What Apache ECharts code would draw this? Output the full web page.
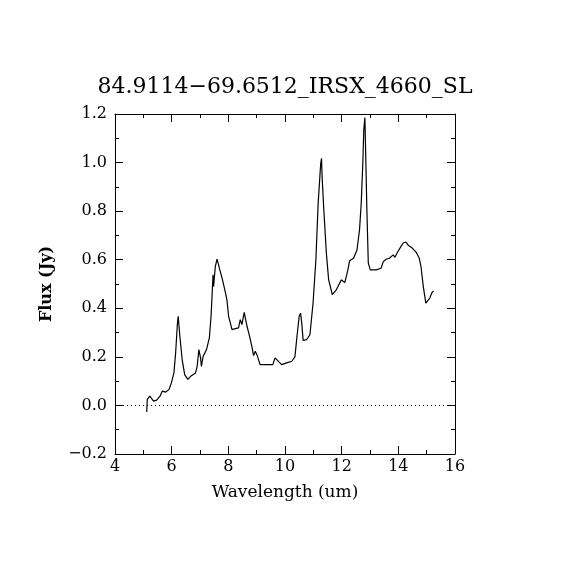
<!DOCTYPE html>
<html><head><meta charset="utf-8">
<script src="https://cdn.jsdelivr.net/npm/echarts@6/dist/echarts.min.js"></script>
<style>html,body{margin:0;padding:0;background:#fff}#c{width:570px;height:570px}</style>
</head><body><div id="c"></div>
<script>
const wavelength = [5.12,5.14,5.23,5.36,5.47,5.59,5.67,5.79,5.91,5.99,6.08,6.14,6.20,6.23,6.29,6.37,6.46,6.57,6.67,6.84,6.90,6.96,7.02,7.05,7.11,7.23,7.33,7.39,7.43,7.46,7.48,7.54,7.60,7.64,7.70,7.74,7.78,7.84,7.89,7.95,8.01,8.07,8.13,8.25,8.36,8.42,8.48,8.56,8.60,8.66,8.75,8.83,8.89,8.95,9.01,9.12,9.24,9.57,9.65,9.71,9.88,10.06,10.24,10.35,10.41,10.50,10.55,10.59,10.64,10.76,10.88,10.99,11.09,11.17,11.23,11.26,11.29,11.31,11.37,11.46,11.54,11.67,11.81,11.99,12.11,12.22,12.28,12.42,12.54,12.63,12.69,12.75,12.78,12.82,12.84,12.89,12.94,13.01,13.08,13.22,13.39,13.47,13.57,13.68,13.74,13.82,13.88,13.98,14.09,14.18,14.27,14.34,14.50,14.64,14.74,14.80,14.88,14.97,15.04,15.11,15.18,15.24];
const flux = [-0.027,0.025,0.038,0.018,0.022,0.038,0.059,0.055,0.066,0.093,0.134,0.216,0.333,0.367,0.284,0.189,0.127,0.107,0.120,0.134,0.161,0.230,0.196,0.161,0.202,0.230,0.278,0.367,0.463,0.538,0.490,0.572,0.602,0.586,0.558,0.565,0.524,0.517,0.469,0.435,0.367,0.340,0.312,0.316,0.319,0.353,0.333,0.383,0.387,0.326,0.284,0.243,0.205,0.223,0.209,0.168,0.168,0.168,0.196,0.189,0.168,0.175,0.182,0.200,0.270,0.367,0.380,0.340,0.268,0.271,0.291,0.421,0.600,0.832,0.941,0.996,1.017,0.941,0.805,0.627,0.517,0.456,0.476,0.517,0.506,0.558,0.596,0.606,0.640,0.723,0.832,1.010,1.133,1.185,1.078,0.805,0.586,0.558,0.551,0.558,0.565,0.592,0.602,0.606,0.600,0.620,0.610,0.633,0.654,0.670,0.673,0.661,0.647,0.629,0.606,0.572,0.490,0.421,0.419,0.442,0.463,0.472];
const titleText = '84.9114\u221269.6512_IRSX_4660_SL';
const xName = 'Wavelength (um)';
const yName = 'Flux (Jy)';

const font = 'DejaVu Serif';
const pts = wavelength.map((w,i)=>[w,flux[i]]);
const axLine = {show:true, onZero:false, lineStyle:{color:'#000', width:1}};
const tick = {show:true, inside:true, length:8, lineStyle:{color:'#000'}};
const minor = {show:true, splitNumber:2, length:4, lineStyle:{color:'#000'}};
const chart = echarts.init(document.getElementById('c'), null, {renderer:'canvas'});
const yFmt = v => (v<0?'\u2212':'') + Math.abs(v).toFixed(1);
chart.setOption({
  animation:false,
  backgroundColor:'#fff',
  title:{text:titleText, left:'center', top:71, textStyle:{fontFamily:font, fontWeight:'normal', fontSize:22, color:'#000'}},
  grid:{left:115, right:115, top:114, bottom:116, containLabel:false},
  xAxis:[{type:'value', min:4, max:16, interval:2, axisLine:axLine, axisTick:tick, minorTick:minor,
    splitLine:{show:false},
    axisLabel:{color:'#000', fontFamily:font, fontSize:16, margin:5},
    name:xName, nameLocation:'middle', nameGap:30, nameTextStyle:{color:'#000', fontFamily:font, fontSize:17}},
   {type:'value', position:'top', min:4, max:16, interval:2, axisLine:axLine, axisTick:tick, minorTick:minor,
    splitLine:{show:false}, axisLabel:{show:false}}],
  yAxis:[{type:'value', min:-0.2, max:1.2, interval:0.2, axisLine:axLine, axisTick:tick, minorTick:minor,
    splitLine:{show:false},
    axisLabel:{color:'#000', fontFamily:font, fontSize:16, margin:8, formatter:yFmt},
    name:yName, nameLocation:'middle', nameGap:60, nameTextStyle:{color:'#000', fontFamily:font, fontSize:16, fontWeight:'bold'}},
   {type:'value', position:'right', min:-0.2, max:1.2, interval:0.2, axisLine:axLine, axisTick:tick, minorTick:minor,
    splitLine:{show:false}, axisLabel:{show:false}}],
  series:[{type:'line', data:pts, showSymbol:false, symbol:'none', lineStyle:{color:'#000', width:1.2}, z:3,
    markLine:{silent:true, symbol:['none','none'], label:{show:false}, lineStyle:{color:'#000', type:[1,3], width:1}, data:[{yAxis:0}]}}]
});
</script></body></html>
